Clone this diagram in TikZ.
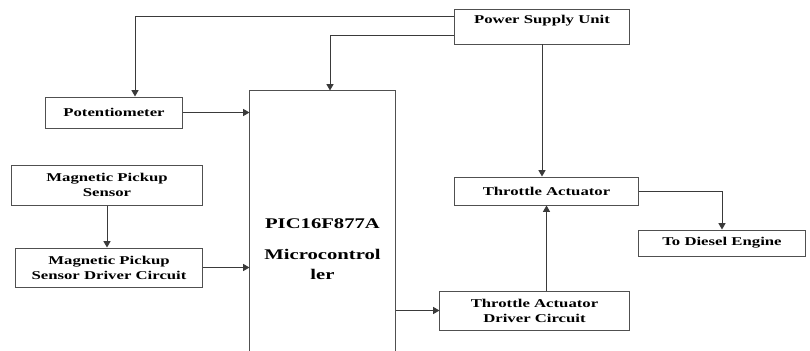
\documentclass[tikz,border=0pt]{standalone}
\usepackage{fontspec}
\setmainfont[FakeStretch=1.4]{Liberation Serif}
\usepackage{tikz}
\usetikzlibrary{arrows.meta, positioning}
\definecolor{border}{HTML}{505050}
\definecolor{wire}{HTML}{3A3A3A}

\begin{document}
\begin{tikzpicture}[
  x=0.025cm, y=-0.025cm,
  block/.style={
    rectangle, draw=border, fill=white, line width=0.7pt,
    font=\fontsize{8.5}{10.6}\selectfont\bfseries, align=center, inner sep=2pt,
  },
  arrow/.style={-{Triangle[length=4.5pt, width=5pt]}, line width=0.7pt, color=wire},
]
\clip (0,0) rectangle (810,350);
\node[block, minimum width=4.35cm, minimum height=0.875cm, text height=6.5pt, text depth=10.3pt, inner ysep=4pt] (psu) at (542,26.5) {Power Supply Unit};
\node[block, minimum width=3.4cm, minimum height=0.775cm] (pot) at (114,112.5) {Potentiometer};
\node[block, minimum width=4.75cm, minimum height=1.0cm] (mps) at (107,185) {Magnetic Pickup\\Sensor};
\node[block, minimum width=4.65cm, minimum height=0.975cm] (mpsdc) at (109,267.5) {Magnetic Pickup\\Sensor Driver Circuit};
\node[block, minimum width=3.625cm, minimum height=7.9cm, font=\fontsize{10.5}{14}\selectfont\bfseries] (mcu) at (322.5,249) {PIC16F877A\\[8pt]Microcontrol\\ler};
\node[block, minimum width=4.575cm, minimum height=0.7cm] (act) at (546.5,191) {Throttle Actuator};
\node[block, minimum width=4.725cm, minimum height=0.975cm] (actdc) at (534.5,310.5) {Throttle Actuator\\Driver Circuit};
\node[block, minimum width=4.15cm, minimum height=0.65cm] (engine) at (722,243) {To Diesel Engine};
\draw[arrow] ([yshift=0.2625cm]psu.west) -| ([xshift=0.525cm]pot.north);
\draw[arrow] ([yshift=-0.2125cm]psu.west) -| ([xshift=0.1875cm]mcu.north);
\draw[arrow] (psu.south) -- (psu.south |- act.north);
\draw[arrow] (pot.east) -- (pot.east -| mcu.west);
\draw[arrow] (mps.south) -- (mps.south |- mpsdc.north);
\draw[arrow] (mpsdc.east) -- (mpsdc.east -| mcu.west);
\draw[arrow] (actdc.west -| mcu.east) -- (actdc.west);
\draw[arrow] (act.south |- actdc.north) -- (act.south);
\draw[arrow] (act.east) -| (engine.north);
\end{tikzpicture}
\end{document}
